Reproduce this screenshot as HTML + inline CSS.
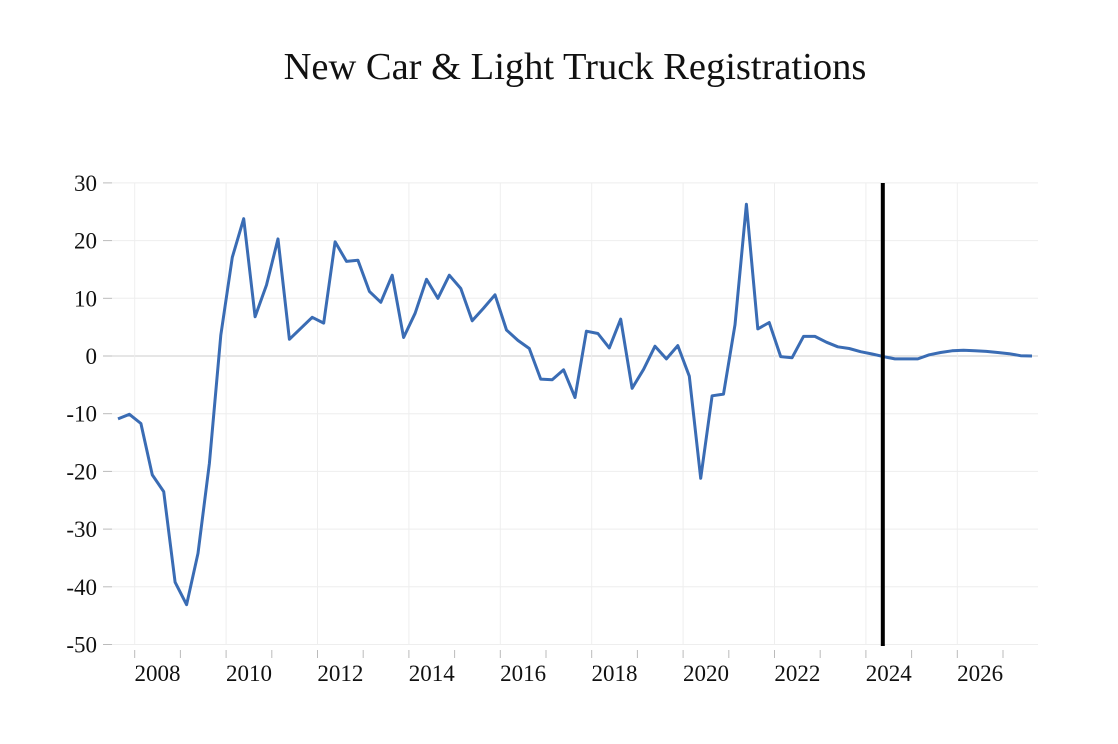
<!DOCTYPE html>
<html><head><meta charset="utf-8"><style>
body{margin:0;background:#fff;}
svg text{font-family:"Liberation Serif",serif;fill:#111;}
</style></head><body>
<svg width="1118" height="739">
<text x="575" y="79" font-size="38.5" text-anchor="middle">New Car &amp; Light Truck Registrations</text>
<g id="grid"></g><g id="axes"></g><g id="series"></g>
</svg>
<script>
const values = [-10.9,-10.1,-11.7,-20.6,-23.5,-39.2,-43.1,-34.2,-18.6,3.6,17.1,23.8,6.8,12.3,20.3,2.9,4.8,6.7,5.7,19.8,16.4,16.6,11.2,9.3,14.0,3.2,7.4,13.3,10.0,14.0,11.7,6.1,8.3,10.6,4.5,2.7,1.3,-4.0,-4.1,-2.4,-7.2,4.3,3.9,1.4,6.4,-5.6,-2.3,1.7,-0.5,1.8,-3.5,-21.2,-6.9,-6.6,5.4,26.3,4.7,5.8,-0.1,-0.3,3.4,3.4,2.4,1.6,1.3,0.75,0.35,-0.1,-0.5,-0.5,-0.5,0.2,0.6,0.9,1.0,0.9,0.8,0.6,0.4,0.05,0.0];
const startYear = 2007.635;
const yTicks = [30,20,10,0,-10,-20,-30,-40,-50];
const xTickYears = [2008,2010,2012,2014,2016,2018,2020,2022,2024,2026];
const forecastYear = 2024.37;
const NS="http://www.w3.org/2000/svg";
const X0=134.7, PXY=45.7;
function xs(t){return X0+(t-2008)*PXY;}
function ys(v){return 356-v*5.77;}
function mk(tag,attrs,parent){const e=document.createElementNS(NS,tag);for(const k in attrs)e.setAttribute(k,attrs[k]);document.getElementById(parent).appendChild(e);return e;}
yTicks.forEach(v=>{
  const g=mk('line',{x1:112,x2:1038,y1:ys(v),y2:ys(v),stroke:v===0?'#ccc':'#eee','stroke-width':1},'grid');
  
  
  const t=mk('line',{x1:103,x2:112,y1:ys(v),y2:ys(v),stroke:'#bbb'},'axes');
  
  
  const l=mk('text',{x:97,y:ys(v)+8,'font-size':23,'text-anchor':'end'},'axes');
  l.textContent=v;
  
  
});
for(let yr=2008;yr<=2027;yr++){
  const x=xs(yr);
  if(yr%2===0){const g=mk('line',{x1:x,x2:x,y1:183,y2:645,stroke:'#eee'},'grid');
    
    }
  const t=mk('line',{x1:x,x2:x,y1:650,y2:658,stroke:'#bbb'},'axes');
  
  
}
xTickYears.forEach(yr=>{
  const l=mk('text',{x:xs(yr+0.5),y:681,'font-size':23,'text-anchor':'middle'},'axes');
  l.textContent=yr;
  
  
});
const pts=values.map((v,i)=>xs(startYear+i*0.25).toFixed(1)+','+ys(v).toFixed(1)).join(' ');
const line=mk('polyline',{points:pts,fill:'none',stroke:'#3a6cb4','stroke-width':3,'stroke-linejoin':'round'},'series');


const fl=mk('line',{x1:xs(forecastYear),x2:xs(forecastYear),y1:183,y2:646,stroke:'#000','stroke-width':4},'series');


</script>
</body></html>
